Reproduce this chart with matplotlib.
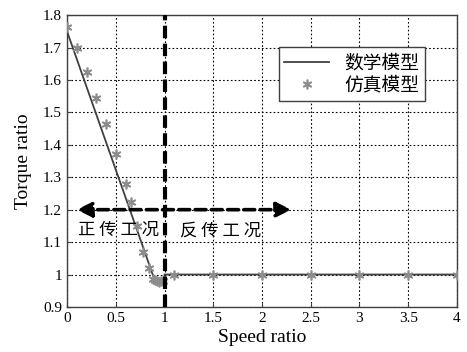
import matplotlib
matplotlib.use("Agg")
import matplotlib.pyplot as plt

plt.rcParams['font.family'] = ['Liberation Serif', 'Noto Sans CJK SC']

# math model (solid line)
model_x = [0.0, 0.9, 1.0, 1.0, 4.0]
model_y = [1.75, 0.982, 0.982, 1.0, 1.0]

# simulation model (stars)
sim_x = [0.0, 0.1, 0.2, 0.3, 0.4, 0.5, 0.61, 0.66, 0.72, 0.78, 0.84,
         0.88, 0.9, 0.92, 0.94, 0.96, 0.98, 1.1, 1.5, 2.0, 2.5, 3.0, 3.5, 4.0]
sim_y = [1.763, 1.70, 1.624, 1.544, 1.464, 1.372, 1.28, 1.224, 1.15, 1.07, 1.02,
         0.985, 0.982, 0.98, 0.978, 0.98, 0.98, 1.0, 1.0, 1.0, 1.0, 1.0, 1.0, 1.0]

xticks = [0, 0.5, 1, 1.5, 2, 2.5, 3, 3.5, 4]
xticklabels = ['0', '0.5', '1', '1.5', '2', '2.5', '3', '3.5', '4']
yticks = [0.9, 1.0, 1.1, 1.2, 1.3, 1.4, 1.5, 1.6, 1.7, 1.8]
yticklabels = ['0.9', '1', '1.1', '1.2', '1.3', '1.4', '1.5', '1.6', '1.7', '1.8']

fig = plt.figure(figsize=(4.67, 3.52), dpi=100)
ax = fig.add_axes([0.1435, 0.128, 0.835, 0.829])

ax.plot(model_x, model_y, color='#404040', lw=1.3, label='数学模型', zorder=3)
ax.plot(sim_x, sim_y, ls='none', marker=(6, 2, 0), ms=7, mew=1.2,
        color='#8c8c8c', mec='#8c8c8c', label='仿真模型', zorder=4)

# boundary between the two regions
ax.axvline(1.0, color='black', lw=3, ls=(0, (3, 1.3)), zorder=5)
ax.annotate('', xy=(0.1, 1.2), xytext=(2.3, 1.2),
            arrowprops=dict(arrowstyle='<|-|>', color='black', lw=2.6,
                            ls=(0, (3, 1.5)), mutation_scale=22,
                            shrinkA=0, shrinkB=0), zorder=5)
ax.text(0.11, 1.137, '正 传 工 况', fontsize=12.5, family=['Noto Sans CJK SC'],
        va='center', ha='left', zorder=6)
ax.text(1.16, 1.137, '反 传 工 况', fontsize=12.5, family=['Noto Sans CJK SC'],
        va='center', ha='left', zorder=6)

ax.set_xlim(0, 4)
ax.set_ylim(0.9, 1.8)
ax.set_xticks(xticks)
ax.set_xticklabels(xticklabels)
ax.set_yticks(yticks)
ax.set_yticklabels(yticklabels)
ax.tick_params(direction='in', labelsize=11, length=3, color='#404040')
ax.grid(True, color='black', ls=(0, (1.5, 2)), lw=0.8)
for s in ax.spines.values():
    s.set_color('#404040')
    s.set_linewidth(1.0)

ax.set_xlabel('Speed ratio', fontsize=14, labelpad=3)
ax.set_ylabel('Torque ratio', fontsize=14, labelpad=8)

leg = ax.legend(loc='upper right', bbox_to_anchor=(0.918, 0.89),
                borderaxespad=0,
                prop={'family': 'Noto Sans CJK SC', 'size': 13.5},
                fancybox=False, edgecolor='#404040', framealpha=1,
                handlelength=2.4, handletextpad=0.8, borderpad=0.3,
                labelspacing=0.05)
leg.get_frame().set_linewidth(1.0)

fig.savefig('out.png', dpi=100)
